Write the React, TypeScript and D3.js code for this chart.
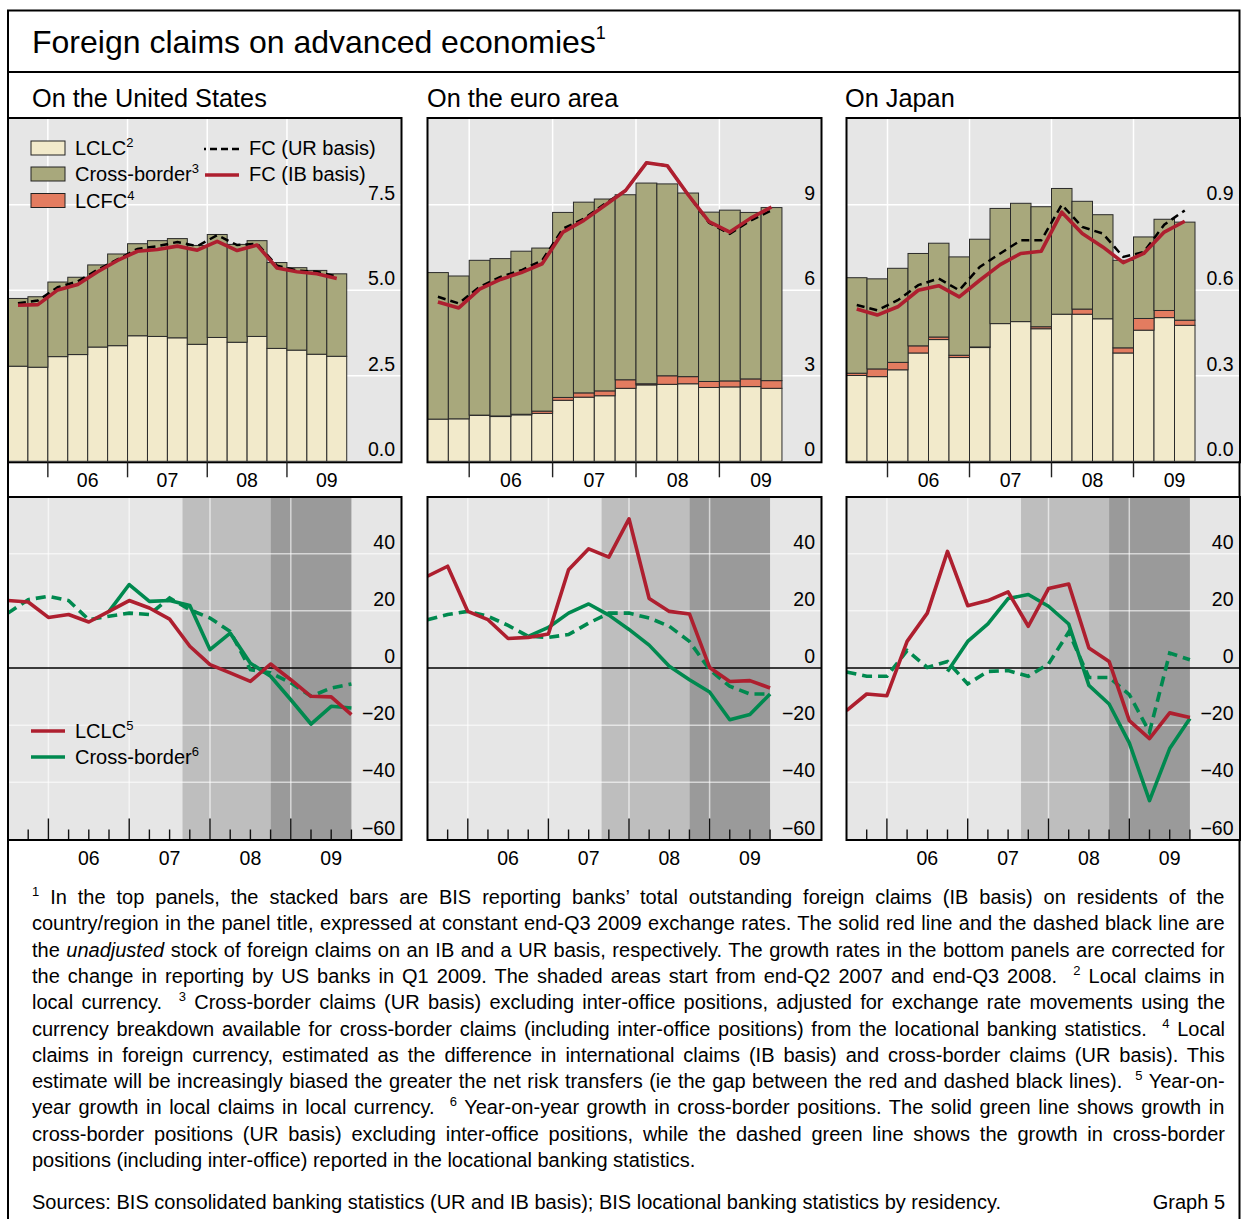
import React from "react";
import * as d3 from "d3";

const FONT = "'Liberation Sans', Arial, Helvetica, sans-serif";

// ---------- categories ----------
const barQuarters = ["2005Q3","2005Q4","2006Q1","2006Q2","2006Q3","2006Q4","2007Q1","2007Q2","2007Q3","2007Q4","2008Q1","2008Q2","2008Q3","2008Q4","2009Q1","2009Q2","2009Q3"];
const growthQuarters = ["2005Q2","2005Q3","2005Q4","2006Q1","2006Q2","2006Q3","2006Q4","2007Q1","2007Q2","2007Q3","2007Q4","2008Q1","2008Q2","2008Q3","2008Q4","2009Q1","2009Q2","2009Q3"];
const yearLabels = ["06","07","08","09"];
const yearStarts = [2006, 2007, 2008, 2009];
const shadeBands = [[2007.66, 2008.75], [2008.75, 2009.75]];

// ---------- top panels: stocks (USD trn) ----------
const usLCLC = [2.78,2.75,3.06,3.12,3.34,3.38,3.67,3.65,3.61,3.42,3.62,3.48,3.65,3.30,3.25,3.13,3.07];
const usLCFC = [0,0,0,0,0,0,0,0,0,0,0,0,0,0,0,0,0];
const usCrossBorder = [1.98,2.06,2.18,2.26,2.40,2.68,2.69,2.80,2.90,2.89,3.01,2.86,2.80,2.51,2.41,2.45,2.41];
const usFCIB = [4.56,4.58,5.01,5.17,5.54,5.87,6.14,6.19,6.29,6.17,6.43,6.16,6.32,5.65,5.54,5.48,5.34];
const usFCUR = [4.62,4.70,5.09,5.26,5.60,5.90,6.21,6.29,6.41,6.29,6.61,6.32,6.36,5.72,5.58,5.54,5.40];

const eaLCLC = [1.48,1.49,1.61,1.57,1.63,1.68,2.14,2.25,2.30,2.56,2.68,2.70,2.72,2.59,2.61,2.62,2.56];
const eaLCFC = [0,0,0.01,0.02,0.02,0.08,0.10,0.15,0.17,0.30,0.04,0.30,0.25,0.21,0.21,0.27,0.27];
const eaCrossBorder = [5.14,5.01,5.43,5.52,5.72,5.72,6.49,6.69,6.73,6.49,7.04,6.73,6.44,5.94,5.99,5.84,6.07];
const eaFCIB = [5.59,5.38,6.04,6.38,6.62,6.93,8.04,8.45,8.97,9.50,10.47,10.37,9.35,8.41,8.04,8.53,8.92];
const eaFCUR = [5.77,5.54,6.12,6.47,6.70,7.05,8.16,8.51,9.03,9.50,10.47,10.37,9.35,8.37,7.98,8.45,8.80];

const jpLCLC = [0.301,0.297,0.321,0.380,0.427,0.364,0.399,0.483,0.490,0.465,0.516,0.516,0.500,0.380,0.460,0.504,0.477];
const jpLCFC = [0.008,0.027,0.026,0.025,0.009,0.008,0.002,0,0,0.007,0,0.018,0,0.018,0.041,0.025,0.018];
const jpCrossBorder = [0.335,0.316,0.330,0.324,0.329,0.345,0.378,0.404,0.415,0.421,0.441,0.378,0.365,0.307,0.286,0.320,0.344];
const jpFCIB = [0.534,0.513,0.542,0.600,0.616,0.577,0.635,0.690,0.729,0.737,0.874,0.799,0.752,0.697,0.729,0.804,0.842];
const jpFCUR = [0.548,0.530,0.565,0.618,0.641,0.600,0.682,0.729,0.775,0.775,0.900,0.822,0.799,0.717,0.734,0.830,0.880];

// ---------- bottom panels: year-on-year growth (%) ----------
const N = null;
const usGrowthLCLC = [23.6,23.1,17.7,18.7,16.1,19.8,23.6,21.0,17.1,7.6,1.2,-1.7,-4.7,1.4,-4.1,-9.9,-10.1,-16.3];
const usGrowthCB = [N,N,N,N,N,19.8,29.2,23.3,23.6,21.9,6.4,12.2,1.7,-2.9,-11.1,-19.6,-13.4,-14.0];
const usGrowthCBLoc = [19.2,23.9,25.1,23.6,16.9,18.1,19.2,18.7,24.5,20.4,17.5,12.8,-0.6,-1.7,-5.2,-9.9,-7.0,-5.6];

const eaGrowthLCLC = [32.1,35.6,19.8,16.9,10.3,10.7,11.9,34.4,41.7,38.8,52.2,24.3,19.8,18.9,0.2,-4.7,-4.4,-7.0];
const eaGrowthCB = [N,N,N,N,N,11.1,14.2,19.2,22.4,18.5,13.5,8.0,0.6,-4.1,-8.4,-18.1,-16.3,-9.1];
const eaGrowthCBLoc = [16.9,18.7,19.8,18.1,14.9,11.1,10.7,11.7,15.7,19.2,19.2,17.5,14.6,9.3,-0.6,-6.4,-9.1,-9.1];

const jpGrowthLCLC = [-14.9,-9.1,-9.7,9.3,19.2,40.8,21.8,23.6,26.6,14.6,27.8,29.4,7.0,2.3,-18.4,-24.7,-15.7,-17.3];
const jpGrowthCB = [N,N,N,N,N,-1.2,9.3,15.4,24.3,25.7,21.6,15.4,-6.1,-12.6,-26.2,-46.4,-28.2,-17.7];
const jpGrowthCBLoc = [-1.4,-2.9,-2.9,6.1,0.2,2.3,-5.6,-1.2,-0.9,-2.9,1.4,12.6,-3.3,-3.3,-9.3,-22.4,5.2,2.9];

const usTicks = [0, 2.5, 5, 7.5];
const eaTicks = [0, 3, 6, 9];
const jpTicks = [0, 0.3, 0.6, 0.9];
const growthTicks = [-60, -40, -20, 0, 20, 40];

// ---------- styles ----------
const C = {
  bg: "#e6e6e6",
  lclc: "#f2eacb",
  cb: "#a8a87c",
  lcfc: "#e37c60",
  red: "#ae1f2f",
  green: "#00894f",
  shadeL: "#bebebe",
  shadeD: "#9a9a9a",
};

const panels = [
  { title: "On the United States", titleX: 32, x0: 8, x1: 401.5, topPPY: 79.7, botPPY: 80.8, yMax: 10, ticks: usTicks, fmt: d3.format(".1f"),
    lclc: usLCLC, lcfc: usLCFC, cb: usCrossBorder, ib: usFCIB, ur: usFCUR,
    gL: usGrowthLCLC, gCB: usGrowthCB, gLoc: usGrowthCBLoc, legend: true },
  { title: "On the euro area", titleX: 427, x0: 427.5, x1: 821.5, topPPY: 83.4, botPPY: 80.6, yMax: 12, ticks: eaTicks, fmt: d3.format("d"),
    lclc: eaLCLC, lcfc: eaLCFC, cb: eaCrossBorder, ib: eaFCIB, ur: eaFCUR,
    gL: eaGrowthLCLC, gCB: eaGrowthCB, gLoc: eaGrowthCBLoc, legend: false },
  { title: "On Japan", titleX: 845, x0: 846.5, x1: 1240, topPPY: 82, botPPY: 80.8, yMax: 1.2, ticks: jpTicks, fmt: d3.format(".1f"),
    lclc: jpLCLC, lcfc: jpLCFC, cb: jpCrossBorder, ib: jpFCIB, ur: jpFCUR,
    gL: jpGrowthLCLC, gCB: jpGrowthCB, gLoc: jpGrowthCBLoc, legend: false },
];

function parseQ(q: string) {
  const y = +q.slice(0, 4);
  const n = +q.slice(5);
  return { start: y + (n - 1) / 4, end: y + n / 4 };
}
const minus = (s: string) => s.replace("-", "\u2212");

const TOP = { y0: 461.3, y1: 119.2, frameTop: 118, frameBot: 462.3 };
const BOT = { y0: 839.5, y1: 496.5, frameTop: 497, frameBot: 840 };

function TopPanel({ p, idx }: any) {
  const xEnd = 2005.5 + (p.x1 - p.x0) / p.topPPY;
  const x = d3.scaleLinear().domain([2005.5, xEnd]).range([p.x0, p.x1]);
  const y = d3.scaleLinear().domain([0, p.yMax]).range([TOP.y0, TOP.y1]);
  const rows = barQuarters.map((q, i) => ({ q, lclc: p.lclc[i], lcfc: p.lcfc[i], cb: p.cb[i] }));
  const stack = d3.stack<any>().keys(["lclc", "lcfc", "cb"])(rows);
  const fills: any = { lclc: C.lclc, lcfc: C.lcfc, cb: C.cb };
  const mid = (q: string) => { const r = parseQ(q); return x((r.start + r.end) / 2); };
  const line = d3.line<number>().x((_, i) => mid(barQuarters[i])).y((v) => y(v));
  const clipId = `clipT${idx}`;
  return (
    <g>
      <defs>
        <clipPath id={clipId}><rect x={p.x0} y={TOP.frameTop} width={p.x1 - p.x0} height={TOP.y0 - TOP.frameTop} /></clipPath>
      </defs>
      <rect x={p.x0} y={TOP.frameTop} width={p.x1 - p.x0} height={TOP.y0 - TOP.frameTop} fill={C.bg} />
      {p.ticks.filter((t: number) => t > 0).map((t: number) => (
        <line key={"h" + t} x1={p.x0} x2={p.x1} y1={y(t)} y2={y(t)} stroke="#fff" strokeWidth={1.5} />
      ))}
      {yearStarts.map((yr) => (
        <line key={"v" + yr} x1={x(yr)} x2={x(yr)} y1={TOP.frameTop} y2={TOP.y0} stroke="#fff" strokeWidth={1.5} />
      ))}
      <g clipPath={`url(#${clipId})`}>
        {stack.map((s) => s.map((d, i) => {
          const r = parseQ(barQuarters[i]);
          const v = d[1] - d[0];
          if (v <= 0) return null;
          return (
            <rect key={s.key + i} x={x(r.start)} width={x(r.end) - x(r.start)} y={y(d[1])} height={y(d[0]) - y(d[1])}
              fill={fills[s.key]} stroke="#2a2a2a" strokeWidth={1} />
          );
        }))}
        <path d={line(p.ur) || ""} fill="none" stroke="#000" strokeWidth={2.5} strokeDasharray="8 5" />
        <path d={line(p.ib) || ""} fill="none" stroke={C.red} strokeWidth={3.6} strokeLinejoin="round" />
      </g>
      {p.ticks.map((t: number) => (
        <text key={"l" + t} x={p.x1 - 6.5} y={y(t) - 5} fontSize={19.5} textAnchor="end">{p.fmt(t)}</text>
      ))}
      <rect x={p.x0} y={TOP.frameTop} width={p.x1 - p.x0} height={TOP.frameBot - TOP.frameTop} fill="none" stroke="#000" strokeWidth={2} />
      {yearStarts.map((yr) => (
        <line key={"t" + yr} x1={x(yr)} x2={x(yr)} y1={TOP.frameBot} y2={TOP.frameBot + 15} stroke="#222" strokeWidth={1.4} />
      ))}
      {yearLabels.map((lab, i) => (
        <text key={lab} x={x(yearStarts[i] + 0.5)} y={487} fontSize={19.5} textAnchor="middle">{lab}</text>
      ))}
      {p.legend && (
        <g fontSize={20}>
          <rect x={31} y={141} width={34} height={14} fill={C.lclc} stroke="#222" strokeWidth={1} />
          <rect x={31} y={167} width={34} height={14} fill={C.cb} stroke="#222" strokeWidth={1} />
          <rect x={31} y={193.5} width={34} height={14} fill={C.lcfc} stroke="#222" strokeWidth={1} />
          <text x={75} y={155}>LCLC<tspan fontSize={13} dy={-8}>2</tspan></text>
          <text x={75} y={181}>Cross-border<tspan fontSize={13} dy={-8}>3</tspan></text>
          <text x={75} y={207.5}>LCFC<tspan fontSize={13} dy={-8}>4</tspan></text>
          <line x1={204} x2={239} y1={149} y2={149} stroke="#000" strokeWidth={2.5} strokeDasharray="2 4 7 4 7 4 7" />
          <line x1={205} x2={239} y1={175} y2={175} stroke={C.red} strokeWidth={3.6} />
          <text x={249} y={155}>FC (UR basis)</text>
          <text x={249} y={181}>FC (IB basis)</text>
        </g>
      )}
    </g>
  );
}

function BottomPanel({ p, idx }: any) {
  const xEnd = 2005.5 + (p.x1 - p.x0) / p.botPPY;
  const x = d3.scaleLinear().domain([2005.5, xEnd]).range([p.x0, p.x1]);
  const y = d3.scaleLinear().domain([-60, 60]).range([BOT.y0, BOT.y1]);
  const ends = growthQuarters.map((q) => parseQ(q).end);
  const line = d3.line<any>().defined((v) => v != null).x((_, i) => x(ends[i])).y((v) => y(v));
  const clipId = `clipB${idx}`;
  const qTicks = d3.range(2005.75, 2009.76, 0.25);
  return (
    <g>
      <defs>
        <clipPath id={clipId}><rect x={p.x0} y={BOT.frameTop} width={p.x1 - p.x0} height={BOT.frameBot - BOT.frameTop} /></clipPath>
      </defs>
      <rect x={p.x0} y={BOT.frameTop} width={p.x1 - p.x0} height={BOT.frameBot - BOT.frameTop} fill={C.bg} />
      {shadeBands.map(([a, b], i) => (
        <rect key={"s" + i} x={x(a)} width={x(b) - x(a)} y={BOT.frameTop} height={BOT.frameBot - BOT.frameTop} fill={i === 0 ? C.shadeL : C.shadeD} />
      ))}
      {growthTicks.filter((t) => t !== 0 && t !== -60).map((t) => (
        <line key={"h" + t} x1={p.x0} x2={p.x1} y1={y(t)} y2={y(t)} stroke="#fff" strokeOpacity={0.6} strokeWidth={1.5} />
      ))}
      {yearStarts.map((yr) => (
        <line key={"v" + yr} x1={x(yr)} x2={x(yr)} y1={BOT.frameTop} y2={BOT.y0} stroke="#fff" strokeOpacity={0.6} strokeWidth={1.5} />
      ))}
      <line x1={p.x0} x2={p.x1} y1={y(0)} y2={y(0)} stroke="#000" strokeWidth={1.3} />
      {qTicks.map((t) => {
        const major = Math.abs(t - Math.round(t)) < 1e-6;
        return <line key={"q" + t} x1={x(t)} x2={x(t)} y1={BOT.y0} y2={BOT.y0 - (major ? 21 : 10)} stroke="#111" strokeWidth={1.4} />;
      })}
      <g clipPath={`url(#${clipId})`}>
        <path d={line(p.gLoc) || ""} fill="none" stroke={C.green} strokeWidth={3.6} strokeDasharray="10 6" />
        <path d={line(p.gCB) || ""} fill="none" stroke={C.green} strokeWidth={3.6} strokeLinejoin="round" />
        <path d={line(p.gL) || ""} fill="none" stroke={C.red} strokeWidth={3.6} strokeLinejoin="round" />
      </g>
      {growthTicks.map((t) => (
        <text key={"l" + t} x={p.x1 - 6.5} y={y(t) - 5} fontSize={19.5} textAnchor="end">{minus(String(t))}</text>
      ))}
      <rect x={p.x0} y={BOT.frameTop} width={p.x1 - p.x0} height={BOT.frameBot - BOT.frameTop} fill="none" stroke="#000" strokeWidth={2} />
      {yearLabels.map((lab, i) => (
        <text key={lab} x={x(yearStarts[i] + 0.5)} y={865} fontSize={19.5} textAnchor="middle">{lab}</text>
      ))}
      {p.legend && (
        <g fontSize={20}>
          <line x1={31} x2={65} y1={731} y2={731} stroke={C.red} strokeWidth={3.6} />
          <line x1={31} x2={65} y1={757} y2={757} stroke={C.green} strokeWidth={3.6} />
          <text x={75} y={738}>LCLC<tspan fontSize={13} dy={-8}>5</tspan></text>
          <text x={75} y={764}>Cross-border<tspan fontSize={13} dy={-8}>6</tspan></text>
        </g>
      )}
    </g>
  );
}

// ---------- footnotes ----------
const footLines = [
  "^1 In the top panels, the stacked bars are BIS reporting banks\u2019 total outstanding foreign claims (IB basis) on residents of the",
  "country/region in the panel title, expressed at constant end-Q3 2009 exchange rates. The solid red line and the dashed black line are",
  "the _unadjusted_ stock of foreign claims on an IB and a UR basis, respectively. The growth rates in the bottom panels are corrected for",
  "the change in reporting by US banks in Q1 2009. The shaded areas start from end-Q2 2007 and end-Q3 2008.  ^2 Local claims in",
  "local currency.  ^3 Cross-border claims (UR basis) excluding inter-office positions, adjusted for exchange rate movements using the",
  "currency breakdown available for cross-border claims (including inter-office positions) from the locational banking statistics.  ^4 Local",
  "claims in foreign currency, estimated as the difference in international claims (IB basis) and cross-border claims (UR basis). This",
  "estimate will be increasingly biased the greater the net risk transfers (ie the gap between the red and dashed black lines).  ^5 Year-on-",
  "year growth in local claims in local currency.  ^6 Year-on-year growth in cross-border positions. The solid green line shows growth in",
  "cross-border positions (UR basis) excluding inter-office positions, while the dashed green line shows the growth in cross-border",
  "positions (including inter-office) reported in the locational banking statistics.",
];
const FN_SIZE = 20;
const SUP_SIZE = 13;

let _ctx: CanvasRenderingContext2D | null = null;
function measure(text: string, size: number, italic = false) {
  if (!_ctx) _ctx = document.createElement("canvas").getContext("2d");
  if (!_ctx) return text.length * size * 0.5;
  _ctx.font = `${italic ? "italic " : ""}${size}px 'Liberation Sans'`;
  return _ctx.measureText(text).width;
}

function parseLine(s: string) {
  const parts = s.split(/(\^\d|_[^_]+_)/).filter((t) => t.length > 0);
  return parts.map((t) => {
    if (t.startsWith("^")) return { t: t.slice(1), sup: true, it: false };
    if (t.startsWith("_") && t.endsWith("_")) return { t: t.slice(1, -1), sup: false, it: true };
    return { t, sup: false, it: false };
  });
}

function FootLine({ s, i, justify }: any) {
  const segs = parseLine(s);
  const left = 32, right = 1225;
  const natural = segs.reduce((a, g) => a + measure(g.t, g.sup ? SUP_SIZE : FN_SIZE, g.it), 0);
  const spaces = segs.reduce((a, g) => a + (g.t.match(/ /g) || []).length, 0);
  const ws = justify && spaces > 0 ? Math.max(0, (right - left - natural) / spaces) : 0;
  let supOn = false;
  return (
    <text x={left} y={904 + i * 26.3} fontSize={FN_SIZE} style={{ whiteSpace: "pre", wordSpacing: `${ws}px` }}>
      {segs.map((g, k) => {
        let dy = 0;
        if (g.sup && !supOn) { dy = -8; supOn = true; }
        else if (!g.sup && supOn) { dy = 8; supOn = false; }
        return (
          <tspan key={k} dy={dy || undefined} fontSize={g.sup ? SUP_SIZE : undefined} fontStyle={g.it ? "italic" : undefined}>{g.t}</tspan>
        );
      })}
    </text>
  );
}

export default function App() {
  const W = 1241, H = 1219;
  return (
    <svg width={W} height={H} viewBox={`0 0 ${W} ${H}`} style={{ position: "absolute", left: 0, top: 0, fontFamily: FONT }}>
      <rect x={0} y={0} width={W} height={H} fill="#fff" />
      <rect x={8} y={10.5} width={1231.5} height={1230} fill="none" stroke="#000" strokeWidth={2} />
      <line x1={8} x2={1240} y1={72} y2={72} stroke="#000" strokeWidth={2} />
      <text x={32} y={53} fontSize={32}>Foreign claims on advanced economies<tspan fontSize={18} dy={-14}>1</tspan></text>
      {panels.map((p, i) => (
        <text key={"t" + i} x={p.titleX} y={107} fontSize={25.3}>{p.title}</text>
      ))}
      {panels.map((p, i) => <TopPanel key={"tp" + i} p={p} idx={i} />)}
      {panels.map((p, i) => <BottomPanel key={"bp" + i} p={p} idx={i} />)}
      {footLines.map((s, i) => <FootLine key={i} s={s} i={i} justify={i < footLines.length - 1} />)}
      <text x={32} y={1209} fontSize={FN_SIZE}>Sources: BIS consolidated banking statistics (UR and IB basis); BIS locational banking statistics by residency.</text>
      <text x={1225} y={1209} fontSize={FN_SIZE} textAnchor="end">Graph 5</text>
    </svg>
  );
}
